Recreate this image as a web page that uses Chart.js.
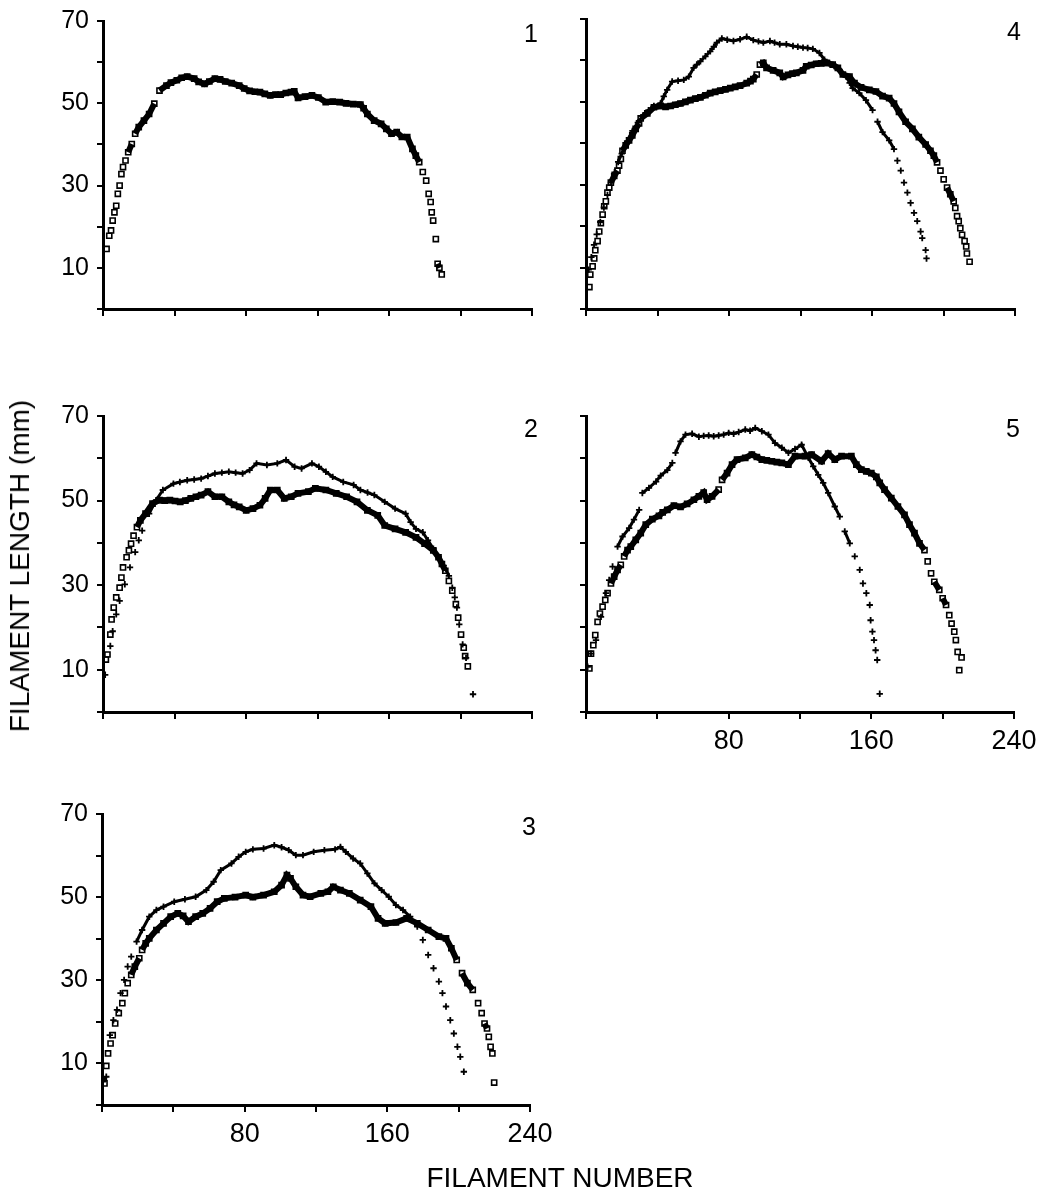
<!DOCTYPE html>
<html>
<head>
<meta charset="utf-8">
<script src="https://cdn.jsdelivr.net/npm/chart.js@4.4.1/dist/chart.umd.min.js"></script>
<style>
  body { margin: 0; background: #fff; width: 1041px; height: 1197px; position: relative; overflow: hidden;
         font-family: "Liberation Sans", Arial, sans-serif; color: #000; }
  canvas { position: absolute; }
  .ytitle { position: absolute; left: 20px; top: 566px; transform: translate(-50%, -50%) rotate(-90deg);
            font-size: 28px; white-space: nowrap; }
  .xtitle { position: absolute; left: 560px; top: 1178px; transform: translate(-50%, -50%);
            font-size: 28px; white-space: nowrap; }
</style>
</head>
<body>
<canvas id="panel1"></canvas>
<canvas id="panel4"></canvas>
<canvas id="panel2"></canvas>
<canvas id="panel5"></canvas>
<canvas id="panel3"></canvas>
<div class="ytitle">FILAMENT LENGTH (mm)</div>
<div class="xtitle">FILAMENT NUMBER</div>
<script>
// tick labels that are printed (other tick marks stay blank)
const xTickLabels = [80, 160, 240];
const yTickLabels = [10, 30, 50, 70];

// [filament number, filament length]
const p1Open = [[2,14.6],[3.5,17.8],[4.5,19.1],[5.4,21.5],[6.4,23.5],[7.4,25.1],[8.3,28],[9.3,30],[10.3,32.8],[11.2,34.5],[12.6,36.1],[14.1,38.1],[16.1,40.1],[18,42.6],[20,44.2],[22.9,45.8],[25.8,47.4],[28.7,49.9],[31.6,53.1],[35.5,54.3],[38,55],[41.3,55.6],[44,56.2],[47.1,56.5],[51,56],[53.5,55.2],[56.8,54.7],[59.5,55.3],[62.6,56],[65.5,55.8],[68.4,55.3],[72,54.9],[76.2,54.3],[79,53.6],[82,53],[85,52.8],[87.8,52.7],[90.5,52.3],[93.6,51.9],[96.5,52.1],[99.4,52.1],[102.3,52.5],[105.2,52.7],[107,52.9],[109.1,51.3],[113,51.6],[116.9,51.9],[120.5,51.4],[124.6,50.3],[128.5,50.4],[132.4,50.3],[136,50],[140,49.8],[144,49.7],[145.8,48.8],[147.9,47.4],[151.7,45.8],[155.6,45],[158.5,43.8],[161.4,42.6],[164.3,43],[167.2,41.8],[170.2,41.8],[173.1,38.9],[175,37.3],[176.9,35.7],[178.9,33.3],[180.8,31.2],[182.2,28],[183.3,26],[183.9,23.5],[184.7,21.5],[186.2,17],[187.2,11],[188.2,10],[189.5,8.4]];

const p4Open = [[1.9,5.3],[2.4,8.3],[3.7,10.3],[4.6,12.2],[5.2,14.2],[6.5,16.4],[7.4,18.7],[8.3,20.7],[9.3,22.8],[10.2,24.8],[11.1,26],[12,28.1],[13,29.3],[13.9,30.5],[15.8,32.1],[17.6,33.4],[18.5,34.6],[19.5,36.2],[20.4,38.2],[22.2,39.5],[24.1,40.7],[25.9,41.9],[27.8,43.5],[29.7,44.8],[30.6,46],[34.3,47.2],[38,48.7],[41.7,49],[44.5,48.8],[47.3,49],[50,49.3],[52.8,49.6],[55.6,50],[58.4,50.4],[61.2,50.8],[64,51.1],[66.8,51.6],[69.5,52.1],[72.3,52.4],[75.1,52.7],[78,53],[80.7,53.3],[83.5,53.6],[86.2,53.9],[89.9,54.5],[92,55],[93.6,55.5],[95.5,56.6],[97.3,59],[99.2,59.4],[101,58.2],[104.7,57.6],[108.4,57],[110.3,56],[113,56.5],[115.5,56.8],[117.7,57],[121.4,57.6],[123.2,58.6],[126,58.9],[128.8,59.2],[131.6,59.3],[134.4,59.4],[138,59],[140.9,58.2],[143.7,56.6],[147.4,56.1],[150.2,54.5],[153.9,53.5],[158.5,52.9],[162.2,52.5],[165.9,51.4],[169.6,50.9],[172.3,49.6],[175.1,47.6],[178.8,45.2],[182.6,43.5],[186.2,41.5],[190,39.7],[192.7,38.2],[194.6,37],[196.4,35.4],[198.3,33.4],[200.1,31.3],[202,29.3],[203.8,27.7],[205.7,26],[206.6,24.4],[207.6,22.4],[208.5,21.2],[209.4,19.5],[210.4,17.9],[211.8,16.4],[212.7,15.1],[213.1,13.4],[214.6,11.4]];
const p4Cross = [[1.5,9.5],[3,12.5],[4.5,15.5],[6,18],[8,21],[10,24.5],[12,27.5],[14,30.5],[16,33],[18,35.5],[20,37.5],[23,40.5],[26,43],[29,45],[32,46.8],[35,48],[38,49],[41.7,49.6],[43.5,51.3],[45.4,52.9],[48.2,54.9],[51.5,55.1],[54.7,55.3],[57.5,56.1],[60.2,58.2],[62,59],[64,59.8],[66.8,61],[69.5,62.2],[71.5,63.3],[73.2,64.3],[76,65.3],[79,65],[82.5,64.7],[86.2,65.1],[89.9,65.7],[93.6,64.9],[96.5,64.6],[99.2,64.3],[102.9,64.7],[105.5,64.3],[108.4,63.9],[112.1,63.9],[115.8,63.5],[118.5,63.3],[121.4,63.1],[124,63],[126.9,62.8],[130.6,61.8],[133.4,60.2],[136.2,59.4],[139,58.6],[141.8,57.8],[145.5,56.1],[147.5,54.6],[149.2,53.3],[152.9,52.1],[156.6,50.4],[160.3,48],[163.1,45.2],[165.9,42.7],[169.6,40.7],[172.3,38.6],[174.2,35.8],[176.1,33.4],[177.9,30.5],[179.8,28.1],[181.6,25.6],[183.5,23.2],[185.3,21.2],[187.2,18.7],[188.1,17.1],[190,14.2],[190.5,12.2]];

const p2Open = [[1.6,12.4],[2.5,13.6],[4.1,18.3],[4.8,21.9],[6,24.7],[7.4,27.1],[9.3,29.4],[10.3,31.8],[11.2,34.2],[13.2,36.6],[14.5,38.2],[15.7,39.8],[17.1,41.7],[19,43.7],[20.9,45.3],[23.8,46.9],[27.7,49.3],[31.6,50.1],[34.5,50],[37.4,50.1],[40.3,49.9],[43.2,49.7],[46.1,50],[49.1,50.5],[52,50.9],[54.9,51.3],[58.7,52.1],[62.6,50.9],[66.5,50.9],[70.4,49.7],[73.3,49],[76.2,48.5],[80.1,47.7],[83.9,48.1],[87.8,48.9],[90.7,50.5],[93.6,52.5],[97.5,52.5],[101.4,50.5],[105.3,50.9],[109.1,51.7],[114.9,52.1],[118.8,52.9],[124.7,52.5],[130.5,51.7],[136.3,50.9],[142.1,49.7],[147.9,47.7],[153.7,46.5],[157.6,44.1],[163.4,43.3],[169.3,42.5],[175.1,41.3],[179.9,39.8],[184.8,38.2],[187.7,36.6],[189.6,35],[191.5,33.4],[193.5,31],[195.4,28.7],[197.4,25.5],[198.7,22.3],[200.3,18.3],[201.8,15.2],[202.6,13.2],[204.1,10.8]];
const p2Cross = [[1.2,8.8],[4.1,15.6],[5.4,19.1],[7.4,23.1],[9.3,26.3],[12.2,30.2],[15.1,34.2],[18,37.8],[20,40.6],[21.9,42.9],[25.8,46.9],[29.7,50.1],[33.5,52.5],[39.4,54],[43,54.4],[47.1,54.8],[51,55],[54.9,55.2],[58.7,55.8],[62.6,56.4],[66.5,56.6],[70.4,56.8],[74.2,56.6],[78.1,56.4],[82,57.2],[85.9,58.8],[91.7,58.4],[97.5,58.8],[102.4,59.6],[107.2,58],[111.1,57.6],[116.9,58.8],[120.8,58],[124.7,56.8],[128.5,55.6],[134.4,54.4],[140.2,53.7],[144,52.5],[148,51.9],[151.8,51.3],[157.6,49.7],[163.4,48.1],[169.3,46.9],[172.1,44.9],[175.1,43.3],[178.9,42.5],[181.8,40.6],[184.8,38.6],[187.7,36.6],[190.6,34.6],[193.5,32.2],[195.4,29.4],[196.8,27.1],[198,24.7],[199.3,20.7],[201.2,16],[203.1,12.8],[207,4.2]];

const p5Open = [[1.9,10.3],[2.8,13.8],[4.1,15.8],[5.2,18.2],[6.5,21.3],[7.8,23.3],[9.3,24.9],[10.8,26.5],[12.1,28.1],[14,30.4],[15.8,32],[17.7,33.6],[19.5,34.8],[21.4,36.8],[23.3,38.3],[25.1,39.1],[27.9,40.7],[30.7,42.3],[33.5,44.3],[37.2,45.6],[40.9,46.4],[43,47.2],[45.6,47.8],[49.3,48.8],[53,48.5],[56.7,49.2],[60.5,50.2],[63.3,51],[66,51.9],[67.9,50.2],[70.7,51],[74.4,52.6],[76.3,54.9],[79.1,56.5],[81.9,58.5],[84.7,59.7],[89.3,60.1],[93,60.9],[95.8,60.3],[98.6,59.7],[101.4,59.5],[104.2,59.3],[107,59.1],[109.8,58.9],[113.5,58.5],[117.2,60.5],[122.8,60.5],[126.5,60.9],[132.1,59.3],[135.8,61.1],[139.5,59.7],[143.3,60.5],[148.8,60.5],[151.6,58.5],[154.4,57.3],[157.2,56.9],[160,56.5],[162.8,55.6],[164.7,54.2],[167.4,52.6],[171.2,50.6],[174.9,48.6],[178.6,46.6],[181.4,44.3],[184.2,42.3],[187,39.9],[189.8,38.3],[191.6,35.6],[193.5,32.8],[195.3,30.8],[198.1,28.9],[200,26.9],[201.9,25.3],[203.7,22.9],[205,20.9],[206.5,19],[207.4,17],[208.4,14.2],[209.3,9.9],[210.6,12.9]];
const p5Cross = [[0.9,10.7],[2.8,13.8],[5.6,17],[8.4,22.5],[11.2,28.1],[13,31.2],[14.9,34.4],[17.7,39.1],[20.5,41.5],[24.2,43.5],[26.9,45.5],[29.8,47.8],[31.6,51.8],[35.3,53],[39.3,54.5],[41.9,55.9],[45.6,57.2],[48.4,58.9],[50.2,61.3],[53,64],[55.8,65.6],[59.5,65.8],[63.3,65.1],[66,65.3],[68.8,65.4],[71.6,65.2],[74.4,65.4],[77.2,65.6],[80,66],[82.8,65.8],[85.6,66.2],[89.3,66.8],[92,66.5],[94.9,67.2],[98.6,66.4],[102.3,65.6],[106,63.6],[109.8,62.5],[113.5,61.3],[117.2,62.2],[120.9,63.2],[124.7,60.1],[127.4,58.1],[130.2,56.1],[133,54.2],[135.8,51.8],[139.5,48.6],[142.3,46.2],[145.1,42.7],[147.9,39.9],[150.7,36.8],[153.5,33.6],[155.3,30.4],[157.2,28.1],[159.1,25.3],[159.6,21.7],[160.6,19],[161.5,17],[162.4,14.6],[163.3,12.3],[164.7,4.3]];

const p3Open = [[1.4,5.2],[2.4,9.4],[3.4,12.4],[4.8,14.8],[6,16.8],[7.4,19.6],[9.4,22.1],[11.4,24.5],[12.8,26.9],[14.4,29.3],[16.4,31.3],[18.4,33.3],[20.9,35.3],[22.5,37.3],[24.5,38.9],[26.5,40.1],[30.5,42.1],[34.5,43.7],[38.5,45.3],[42.5,46.1],[45.5,45.5],[48.5,44.1],[52.5,45.3],[56.5,46.1],[60.6,47.3],[64.6,48.9],[68.6,49.7],[74.6,50],[80.6,50.5],[84.6,50],[90.6,50.5],[96.6,51.3],[100.7,52.9],[103.7,55.3],[105.7,54.5],[108.7,52.5],[112.7,50.5],[116.7,50.1],[122.7,50.9],[126.7,51.3],[129.7,52.5],[133.7,51.7],[138.7,50.9],[144.8,49.3],[150.8,47.7],[154.8,44.9],[158.8,43.7],[164.8,43.9],[170.8,44.9],[176.8,43.7],[182.9,42.1],[188.9,40.5],[192.9,40.1],[195.9,37.7],[198.9,34.9],[201.9,31.7],[204.9,29.3],[207.9,27.7],[210.9,24.5],[212.9,22.1],[214.5,19.6],[215.9,18.4],[216.9,16.4],[217.9,14],[218.9,12.4],[219.9,5.4]];
const p3Cross = [[0.4,5.6],[2.4,6.8],[4.4,16.8],[6.4,20.4],[8.4,22.9],[10.4,26.9],[12.4,30.1],[14.4,33.3],[16.4,35.7],[19.4,39.3],[22.5,42.1],[26.5,45.3],[30.5,46.9],[34.5,47.7],[40.5,48.9],[46.5,49.5],[52.5,50.1],[58.5,51.7],[62.6,53.7],[66.6,56.5],[72.6,58.1],[76.6,59.7],[80.6,60.9],[84.6,61.5],[90.6,61.7],[96.6,62.5],[100.7,62],[104.7,61.3],[108.7,60.1],[112.7,60.1],[118.7,60.9],[124.7,61.3],[130.7,61.5],[133.7,62.1],[136.7,60.9],[140.8,59.3],[144.8,58.1],[148.8,55.7],[152.8,53.3],[156.8,51.7],[160.8,50.1],[164.8,48.1],[168.8,46.9],[172.8,45.3],[176.8,42.9],[179.9,39.7],[182.9,36.1],[185.9,32.9],[188.9,29.7],[190.9,26.9],[192.9,23.7],[195.3,20.4],[197.3,17.2],[199.3,14],[200.9,11.6],[202.9,8]];

const FONT = '"Liberation Sans", Arial, sans-serif';
const yAxisW = 80, xAxisH = 60, padTop = 24, padRight = 40;

// steep parts (the tails) show loose markers only, no trace
function traceColor(ctx) {
    const dx = Math.abs(ctx.p1.parsed.x - ctx.p0.parsed.x);
    const dy = Math.abs(ctx.p1.parsed.y - ctx.p0.parsed.y);
    return dy / Math.max(dx, 0.1) > 1.0 ? 'rgba(0,0,0,0)' : '#000';
}

function openSet(pts) {
    return {
        data: pts.map(p => ({x: p[0], y: p[1]})),
        showLine: true,
        borderColor: '#000',
        borderWidth: 6,
        pointStyle: 'rect',
        pointRadius: 3.6,
        pointBorderWidth: 1.6,
        pointBorderColor: '#000',
        pointBackgroundColor: 'rgba(0,0,0,0)',
        segment: { borderColor: traceColor }
    };
}

function crossSet(pts) {
    return {
        data: pts.map(p => ({x: p[0], y: p[1]})),
        showLine: true,
        borderColor: '#000',
        borderWidth: 3,
        pointStyle: 'cross',
        pointRadius: 3.2,
        pointBorderWidth: 1.8,
        pointBorderColor: '#000',
        segment: { borderColor: traceColor }
    };
}

const panelNumber = {
    id: 'panelNumber',
    afterDraw(chart, args, opts) {
        const {ctx, chartArea} = chart;
        ctx.save();
        ctx.font = '25px ' + FONT;
        ctx.fillStyle = '#000';
        ctx.textAlign = 'right';
        ctx.textBaseline = 'middle';
        ctx.fillText(opts.text, chartArea.right + 6, chartArea.top + 14);
        ctx.restore();
    }
};

function makePanel(id, area, number, datasets, showY, showX) {
    const cv = document.getElementById(id);
    cv.width = area.right - area.left + yAxisW + padRight;
    cv.height = area.bottom - area.top + padTop + xAxisH;
    cv.style.left = (area.left - yAxisW) + 'px';
    cv.style.top = (area.top - padTop) + 'px';

    new Chart(cv, {
        type: 'scatter',
        data: { datasets: datasets },
        options: {
            responsive: false,
            animation: false,
            devicePixelRatio: 1,
            layout: { padding: { top: padTop, right: padRight, left: 0, bottom: 0 } },
            plugins: { legend: { display: false }, tooltip: { enabled: false }, panelNumber: { text: number } },
            scales: {
                x: {
                    type: 'linear', min: 0, max: 240,
                    afterFit: s => { s.height = xAxisH; },
                    ticks: {
                        stepSize: 40, autoSkip: false, maxRotation: 0, color: '#000', padding: 6,
                        font: { size: 27, family: FONT },
                        callback: v => (showX && xTickLabels.includes(v)) ? String(v) : ''
                    },
                    grid: { drawOnChartArea: false, drawTicks: true, tickLength: 7, color: '#000', lineWidth: 2 },
                    border: { display: true, color: '#000', width: 3 }
                },
                y: {
                    type: 'linear', min: 0, max: 70,
                    afterFit: s => { s.width = yAxisW; },
                    ticks: {
                        stepSize: 10, autoSkip: false, color: '#000', padding: 8,
                        font: { size: 25, family: FONT },
                        callback: v => (showY && yTickLabels.includes(v)) ? String(v) : ''
                    },
                    grid: { drawOnChartArea: false, drawTicks: true, tickLength: 6, color: '#000', lineWidth: 2 },
                    border: { display: true, color: '#000', width: 3 }
                }
            }
        },
        plugins: [panelNumber]
    });
}

makePanel('panel1', {left: 103, top: 21, right: 532, bottom: 309}, '1', [openSet(p1Open)], true, false);
makePanel('panel4', {left: 586, top: 19, right: 1015, bottom: 309}, '4', [crossSet(p4Cross), openSet(p4Open)], false, false);
makePanel('panel2', {left: 103, top: 416, right: 532, bottom: 712}, '2', [crossSet(p2Cross), openSet(p2Open)], true, false);
makePanel('panel5', {left: 586, top: 416, right: 1014, bottom: 712}, '5', [crossSet(p5Cross), openSet(p5Open)], false, true);
makePanel('panel3', {left: 102, top: 814, right: 530, bottom: 1105}, '3', [crossSet(p3Cross), openSet(p3Open)], true, true);
</script>
</body>
</html>
